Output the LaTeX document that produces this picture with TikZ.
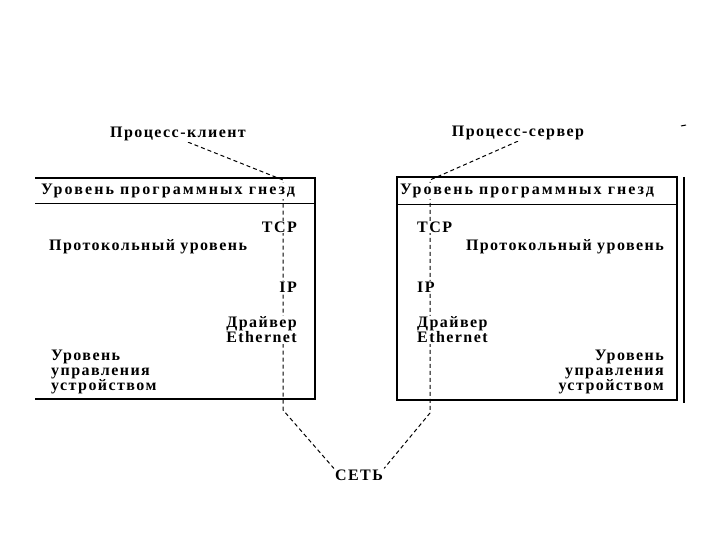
\documentclass[tikz,border=0pt]{standalone}
\usepackage{fontspec}
\newfontfamily\labelfont{Liberation Serif Bold}[LetterSpace=9]
\newfontfamily\headfont{Liberation Serif Bold}[LetterSpace=13]
\usetikzlibrary{backgrounds}

\begin{document}
\begin{tikzpicture}[x=1pt, y=-1pt,
    lbl/.style={font=\labelfont\fontsize{16}{15}\selectfont, inner sep=1pt, fill=white, align=left},
    head/.style={lbl, font=\headfont\fontsize{16}{15}\selectfont, anchor=west},
    border/.style={draw, line width=2.5pt},
    sep/.style={draw, line width=0.8pt},
    link/.style={draw, line width=1pt, dash pattern=on 4pt off 3pt}]
\useasboundingbox (0,0) rectangle (720,540);

\node[lbl] (client) at (178,134) {Процесс-клиент};
\node[lbl] (server) at (518,133) {Процесс-сервер};

\node[head] (sockL) at (40,191) {Уровень программных гнезд};
\node[lbl, anchor=east] (tcpL) at (298,227) {TCP};
\node[lbl, anchor=west] (protoL) at (48,247) {Протокольный уровень};
\node[lbl, anchor=east] (ipL) at (298,287) {IP};
\node[lbl, anchor=east, align=right] (drvL) at (298,330) {Драйвер\\Ethernet};
\node[lbl, anchor=west] (devL) at (50,372) {Уровень\\управления\\устройством};

\node[head] (sockR) at (399,191) {Уровень программных гнезд};
\node[lbl, anchor=west] (tcpR) at (416,227) {TCP};
\node[lbl, anchor=east] (protoR) at (665,247) {Протокольный уровень};
\node[lbl, anchor=west] (ipR) at (416,287) {IP};
\node[lbl, anchor=west] (drvR) at (416,330) {Драйвер\\Ethernet};
\node[lbl, anchor=east, align=right] (devR) at (665,372) {Уровень\\управления\\устройством};

\node[lbl] (net) at (359,475) {СЕТЬ};

\coordinate (cTop) at (283,180);
\coordinate (cBot) at (283,410);
\coordinate (sTop) at (430,180);
\coordinate (sBot) at (430,413);

\begin{scope}[on background layer]
\draw[link] ([xshift=10pt]client.south) -- (cTop) -- (cBot) -- (net.north west);
\draw[link] (server.south) -- (sTop) -- (sBot) -- (net.north east);
\end{scope}

\draw[border] (35,178) -- (315,178) -- (315,399) -- (35,399);
\draw[sep] (35,203) -- (315,203);
\draw[border] (397,177) rectangle (677,400);
\draw[sep] (397,204) -- (677,204);
\draw[border] (684,177) -- (684,403);
\draw[line width=1pt] (681,126) -- (686,125);
\end{tikzpicture}
\end{document}
